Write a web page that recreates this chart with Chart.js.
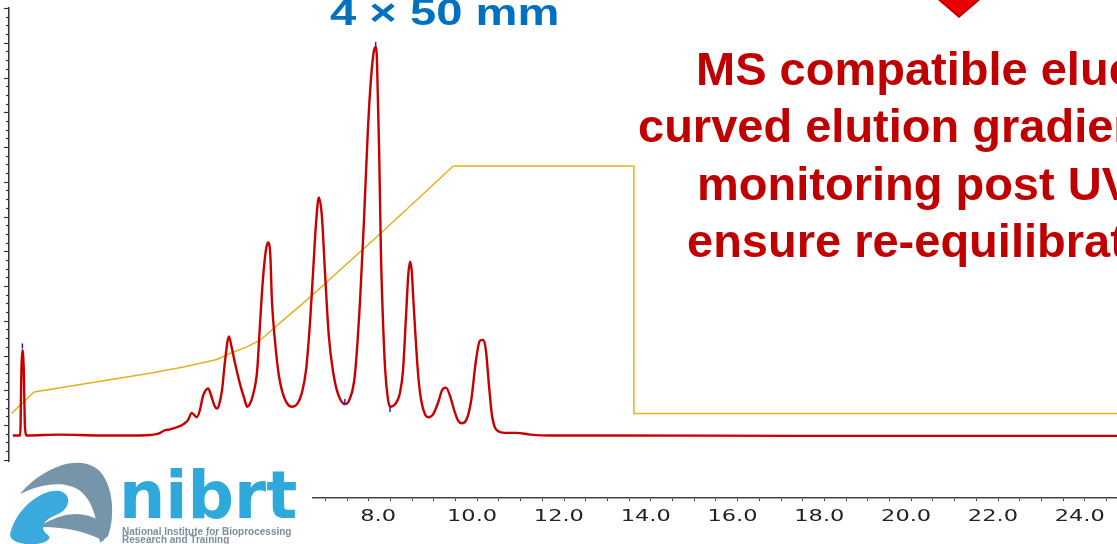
<!DOCTYPE html>
<html>
<head>
<meta charset="utf-8">
<script src="https://cdn.jsdelivr.net/npm/chart.js@4.4.1/dist/chart.umd.min.js"></script>
<style>
  html, body { margin: 0; padding: 0; background: #fff; }
  #wrap { width: 1117px; height: 544px; }
</style>
</head>
<body>
<div id="wrap"><canvas id="chromatogram" width="1117" height="544"></canvas></div>
<script>
// UV trace: retention time (min) and signal (arbitrary units, baseline ~0)
const uvTime = [
  -0.20, -0.03, 0.00, 0.02, 0.05, 0.08, 0.12, 0.89, 1.81, 2.73,
  2.96, 3.15, 3.31, 3.42, 3.61, 3.73, 3.84, 3.92, 4.04, 4.11,
  4.18, 4.30, 4.37, 4.44, 4.50, 4.55, 4.62, 4.69, 4.78, 4.84,
  4.92, 5.03, 5.13, 5.20, 5.26, 5.33, 5.43, 5.50, 5.56, 5.63,
  5.68, 5.73, 5.77, 5.84, 5.93, 6.05, 6.23, 6.35, 6.46, 6.56,
  6.65, 6.72, 6.79, 6.85, 6.92, 6.99, 7.08, 7.18, 7.29, 7.45,
  7.57, 7.68, 7.80, 7.89, 7.98, 8.05, 8.12, 8.16, 8.19, 8.24,
  8.28, 8.32, 8.38, 8.44, 8.49, 8.61, 8.72, 8.79, 8.86, 8.91,
  8.95, 8.99, 9.03, 9.07, 9.14, 9.21, 9.30, 9.37, 9.48, 9.60,
  9.69, 9.78, 9.87, 9.97, 10.06, 10.14, 10.24, 10.36, 10.47, 10.56,
  10.64, 10.70, 10.77, 10.84, 10.95, 11.14, 11.41, 11.72, 12.18, 13.33,
  17.94, 22.55, 25.24
];
const uvSignal = [
  0, 0, 79, 98, 79, 10, 0, 1, 0, 0,
  0.5, 2, 6, 7, 10, 13, 18, 26, 21, 29,
  45, 54, 46, 35, 31, 35, 52, 86, 114, 102,
  83, 60, 43, 33, 36, 46, 75, 132, 178, 213,
  222, 210, 155, 109, 69, 44, 33, 36, 49, 77,
  132, 190, 247, 274, 253, 190, 115, 73, 48, 36,
  43, 69, 155, 247, 351, 409, 443, 447, 432, 328,
  213, 144, 75, 43, 33, 36, 49, 75, 138, 184,
  200, 190, 155, 121, 69, 40, 24, 21, 24, 38,
  52, 55, 46, 29, 17, 14, 17, 40, 86, 109,
  110, 98, 58, 23, 6, 3, 3, 1, 0, 0,
  -0.5, -0.5, -0.5
];

// gradient programme (% of span)
const gradTime = [-0.23, 0.29, 2.96, 3.73, 4.50, 4.80, 5.19, 5.50, 6.03, 6.57, 8.15, 9.18, 9.95, 14.11, 14.11, 25.24];
const gradPercent = [0, 8.7, 16.2, 18.8, 21.8, 24.2, 26.9, 29.6, 37.7, 45.8, 70.8, 87.5, 100, 100, 0, 0];

// integration marks from the software
const markTime = [0.02, 7.45, 8.16, 8.49];
const markSignal = [103, 39, 450, 30];

const xLabelValues = [0, 2, 4, 6, 8, 10, 12, 14, 16, 18, 20, 22, 24];

const titleText = '4 × 50 mm';
const noteLines = ['MS compatible eluents,', 'curved elution gradient,', 'monitoring post UV to', 'ensure re-equilibration'];
const noteX = [696, 638, 697, 687];
const logoWord = 'nibrt';
const logoLines = ['National Institute for Bioprocessing', 'Research and Training'];

const overlay = {
  id: 'overlay',
  afterDraw(chart) {
    const ctx = chart.ctx;
    const ys = chart.scales.y;
    const xs = chart.scales.x;
    ctx.save();

    // y axis tick marks, longer every fourth
    ctx.strokeStyle = '#333';
    ctx.lineWidth = 1.2;
    ys.ticks.forEach((t, i) => {
      const py = Math.round(ys.getPixelForValue(t.value)) + 0.5;
      const len = i % 4 === 0 ? 5 : 3;
      ctx.beginPath();
      ctx.moveTo(ys.right - len, py);
      ctx.lineTo(ys.right, py);
      ctx.stroke();
    });

    // x labels: the software's font is stretched sideways
    ctx.fillStyle = '#222';
    ctx.font = '15px "DejaVu Sans"';
    ctx.textAlign = 'left';
    ctx.textBaseline = 'alphabetic';
    xLabelValues.forEach(v => {
      const px = xs.getPixelForValue(v);
      ctx.save();
      ctx.translate(px - 8.5, xs.top + 23);
      ctx.scale(1.5, 1);
      ctx.fillText(v.toFixed(1), 0, 0);
      ctx.restore();
    });

    // logo area
    ctx.fillStyle = '#fff';
    ctx.fillRect(0, 462, 312, 82);

    ctx.fillStyle = '#7795a8';
    ctx.beginPath();
    ctx.moveTo(20, 494);
    ctx.bezierCurveTo(40, 470, 75, 454, 96, 468);
    ctx.bezierCurveTo(113, 480, 116, 515, 108, 536);
    ctx.lineTo(100, 543);
    ctx.bezierCurveTo(97, 520, 93, 500, 79, 490);
    ctx.bezierCurveTo(64, 480, 40, 484, 20, 494);
    ctx.fill();
    ctx.beginPath();
    ctx.moveTo(38, 527);
    ctx.quadraticCurveTo(72, 505, 99, 520);
    ctx.lineTo(104, 541);
    ctx.quadraticCurveTo(76, 526, 38, 527);
    ctx.fill();

    ctx.fillStyle = '#3aaadc';
    ctx.beginPath();
    ctx.moveTo(11, 531);
    ctx.bezierCurveTo(18, 506, 44, 488, 60, 491);
    ctx.bezierCurveTo(73, 495, 70, 510, 56, 515);
    ctx.bezierCurveTo(44, 520, 38, 528, 48, 535);
    ctx.bezierCurveTo(54, 540, 40, 546, 25, 544);
    ctx.bezierCurveTo(12, 542, 8, 537, 11, 531);
    ctx.fill();

    ctx.fillStyle = '#2fa8dc';
    ctx.font = 'bold 65px "DejaVu Sans"';
    ctx.fillText(logoWord, 119, 518);
    ctx.fillStyle = '#7c8f9a';
    ctx.font = 'bold 10px "Liberation Sans"';
    ctx.fillText(logoLines[0], 122, 535, 176);
    ctx.fillText(logoLines[1], 122, 543);

    // title, cut at the top edge
    ctx.fillStyle = '#0070c0';
    ctx.font = 'bold 36px "Liberation Sans"';
    ctx.save();
    ctx.translate(330, 25);
    ctx.scale(1.31, 1);
    ctx.fillText(titleText, 0, 0);
    ctx.restore();

    // arrow tip
    ctx.fillStyle = '#e80000';
    ctx.strokeStyle = '#b00000';
    ctx.lineWidth = 1.5;
    ctx.beginPath();
    ctx.moveTo(938, -1);
    ctx.lineTo(980, -1);
    ctx.lineTo(959, 17);
    ctx.closePath();
    ctx.fill();
    ctx.stroke();

    // note
    ctx.fillStyle = '#c00000';
    ctx.font = 'bold 47px "Liberation Sans"';
    noteLines.forEach((line, i) => {
      ctx.fillText(line, noteX[i], 85 + i * 57.3);
    });

    ctx.restore();
  }
};

Chart.defaults.font.family = '"DejaVu Sans"';

new Chart(document.getElementById('chromatogram'), {
  type: 'line',
  data: {
    datasets: [
      {
        label: 'marks',
        data: markTime.map((t, i) => ({ x: t, y: markSignal[i] })),
        showLine: false,
        pointStyle: 'line',
        pointRotation: 90,
        pointRadius: 2.5,
        pointBorderWidth: 1.5,
        borderColor: '#1a1aff',
        yAxisID: 'y'
      },
      {
        label: 'UV',
        data: uvTime.map((t, i) => ({ x: t, y: uvSignal[i] })),
        borderColor: '#c80000',
        borderWidth: 2.4,
        pointRadius: 0,
        cubicInterpolationMode: 'monotone',
        yAxisID: 'y'
      },
      {
        label: '%B',
        data: gradTime.map((t, i) => ({ x: t, y: gradPercent[i] })),
        borderColor: '#e5b020',
        borderWidth: 1.5,
        pointRadius: 0,
        tension: 0,
        yAxisID: 'grad'
      }
    ]
  },
  options: {
    responsive: false,
    animation: false,
    devicePixelRatio: 1,
    layout: { autoPadding: false, padding: { top: 8, left: 0, right: 0, bottom: 0 } },
    plugins: {
      legend: { display: false },
      tooltip: { enabled: false }
    },
    scales: {
      x: {
        type: 'linear',
        min: -0.288,
        max: 25.24,
        afterBuildTicks(scale) {
          const t = [];
          for (let v = 0; v <= 25; v += 0.5) t.push({ value: v });
          scale.ticks = t;
        },
        afterFit(scale) {
          scale.height = 46;
          scale.paddingLeft = 0;
          scale.paddingRight = 0;
        },
        ticks: { display: false },
        grid: { drawOnChartArea: false, drawTicks: true, tickLength: 3, color: '#444', lineWidth: 1 },
        border: { display: true, color: '#444', width: 1.5 }
      },
      y: {
        min: -72,
        max: 492,
        afterBuildTicks(scale) {
          const t = [];
          for (let v = 492; v >= -72; v -= 10) t.push({ value: v });
          scale.ticks = t;
        },
        afterFit(scale) {
          scale.width = 9;
          scale.paddingTop = 0;
          scale.paddingBottom = 0;
        },
        ticks: { display: false },
        grid: { display: false },
        border: { display: true, color: '#333', width: 1.5 }
      },
      grad: {
        display: false,
        min: -34.2,
        max: 163.9
      }
    }
  },
  plugins: [overlay]
});
</script>
</body>
</html>
